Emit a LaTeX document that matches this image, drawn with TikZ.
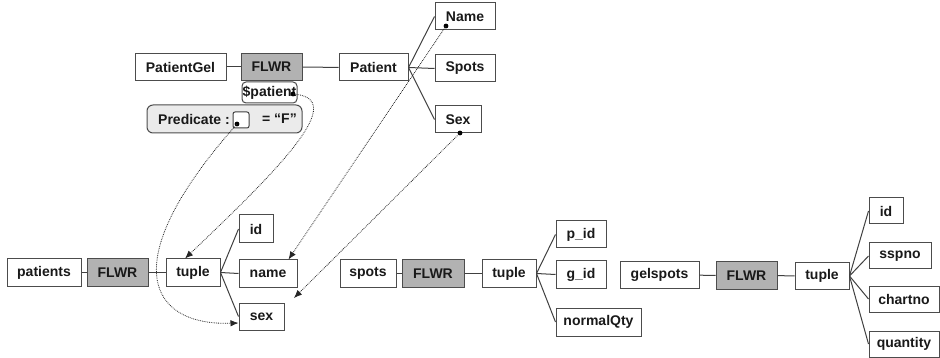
\documentclass[tikz,border=0pt]{standalone}
\usepackage{fontspec}
\setmainfont{Liberation Sans}
\usetikzlibrary{arrows.meta,calc}
\begin{document}
\begin{tikzpicture}[x=1pt,y=-1pt,
  fieldbox/.style={draw=black!70, line width=1pt, fill=white, inner sep=0pt,
    minimum height=27pt, font=\fontsize{14}{15}\selectfont\bfseries, text=black!90},
  flwrbox/.style={fieldbox, fill=black!30},
  tie/.style={draw=black!75, line width=1pt},
  xref/.style={densely dotted, line width=0.8pt, draw=black!85},
  xrefarrow/.style={xref, -{Latex[length=8pt,width=6.5pt]}},
  anchordot/.style={circle, fill=black, inner sep=0pt, minimum size=4.8pt},
  plain/.style={inner sep=0pt, font=\fontsize{14}{15}\selectfont\bfseries, text=black!90}
]
\path[use as bounding box] (0,0) rectangle (940,358);

% query side: PatientGel constructor
\node[fieldbox, minimum width=91pt] (patientgel) at (180.5,67) {PatientGel};
\node[flwrbox, minimum width=61pt] (flwrA) at (271.5,67) {FLWR};
\node[fieldbox, minimum width=69pt] (patientA) at (373.5,67.5) {Patient};
\node[fieldbox, minimum width=60pt] (nameA) at (465,16.5) {Name};
\node[fieldbox, minimum width=60pt] (spotsA) at (465,68.5) {Spots};
\node[fieldbox, minimum width=46pt] (sexA) at (458,119.5) {Sex};
\node[fieldbox, rounded corners=4pt, minimum width=55pt, minimum height=21pt] (var) at (269.5,92.5) {\$patient};
\node[fieldbox, rounded corners=6pt, fill=black!8, minimum width=155pt, minimum height=28pt] (pred) at (224.5,119) {};
\node[plain, anchor=west] (predlabel) at (158,119) {Predicate :};
\node[plain] (predval) at (279.5,119) {= “F”};
\node[draw=black!75, line width=1pt, fill=white, rounded corners=2pt, inner sep=0pt, minimum size=16pt] (slot) at (241,120) {};

\draw[tie] (patientgel) -- (flwrA);
\draw[tie] (flwrA) -- (patientA);
\draw[tie] (patientA.east) -- (nameA.west);
\draw[tie] (patientA.east) -- (spotsA.west);
\draw[tie] (patientA.east) -- (sexA.west);

% source: patients
\node[fieldbox, minimum width=74pt] (patients) at (44,272.5) {patients};
\node[flwrbox, minimum width=61pt] (flwrB) at (117.5,272.5) {FLWR};
\node[fieldbox, minimum width=54pt] (tupleB) at (193,272.5) {tuple};
\node[fieldbox, minimum width=34pt, minimum height=28pt] (idB) at (256,229) {id};
\node[fieldbox, minimum width=58pt] (nameB) at (268,273.5) {name};
\node[fieldbox, minimum width=45pt] (sexB) at (261.5,316.5) {sex};
\draw[tie] (patients) -- (flwrB);
\draw[tie] (flwrB) -- (tupleB);
\draw[tie] (tupleB.east) -- (idB.west);
\draw[tie] (tupleB.east) -- (nameB.west);
\draw[tie] (tupleB.east) -- (sexB.west);

% source: spots
\node[fieldbox, minimum width=56pt] (spots) at (368,273.5) {spots};
\node[flwrbox, minimum width=62pt] (flwrC) at (433,273.5) {FLWR};
\node[fieldbox, minimum width=54pt] (tupleC) at (509,273.5) {tuple};
\node[fieldbox, minimum width=50pt] (pid) at (581,234.5) {p\_id};
\node[fieldbox, minimum width=50pt] (gid) at (581,274.5) {g\_id};
\node[fieldbox, minimum width=85pt, minimum height=28pt] (normalqty) at (598.5,322) {normalQty};
\draw[tie] (spots) -- (flwrC);
\draw[tie] (flwrC) -- (tupleC);
\draw[tie] (tupleC.east) -- (pid.west);
\draw[tie] (tupleC.east) -- (gid.west);
\draw[tie] (tupleC.east) -- (normalqty.west);

% source: gelspots
\node[fieldbox, minimum width=79pt, minimum height=26pt] (gelspots) at (659.5,275) {gelspots};
\node[flwrbox, minimum width=61pt] (flwrD) at (746.5,275.5) {FLWR};
\node[fieldbox, minimum width=54pt, minimum height=26pt] (tupleD) at (822,276) {tuple};
\node[fieldbox, minimum width=34pt, minimum height=26pt] (idD) at (886,211) {id};
\node[fieldbox, minimum width=62pt, minimum height=26pt] (sspno) at (900,256) {sspno};
\node[fieldbox, minimum width=70pt, minimum height=26pt] (chartno) at (904,299) {chartno};
\node[fieldbox, minimum width=70pt, minimum height=26pt] (quantity) at (904,344) {quantity};
\draw[tie] (gelspots) -- (flwrD);
\draw[tie] (flwrD) -- (tupleD);
\draw[tie] (tupleD.east) -- (idD.west);
\draw[tie] (tupleD.east) -- (sspno.west);
\draw[tie] (tupleD.east) -- (chartno.west);
\draw[tie] (tupleD.east) -- (quantity.west);

% correspondences
\node[anchordot] (dName) at (446,26) {};
\node[anchordot] (dSex) at (460,133) {};
\node[anchordot] (dVar) at (293,94) {};
\node[anchordot] (dSlot) at (237,124) {};
\coordinate (sexTip) at (294,298);

\draw[xrefarrow] (dName.center) -- ([xshift=-9pt]nameB.north east);
\draw[xrefarrow] (dSex.center) -- (sexTip);
\draw[xrefarrow] (dVar.center) .. controls (350,98) and (280,168) .. ([xshift=-8pt]tupleB.north);
\draw[xrefarrow] (dSlot.center) .. controls (114,262) and (148,326) .. ([yshift=-6.5pt]sexB.west);
\end{tikzpicture}
\end{document}
